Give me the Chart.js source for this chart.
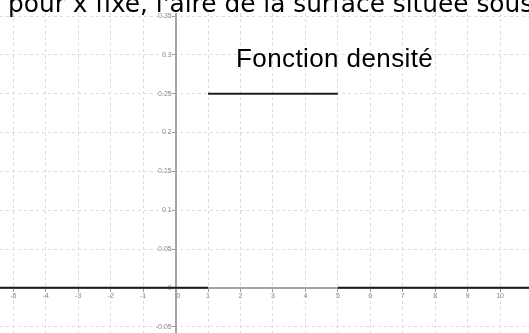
<!DOCTYPE html>
<html>
<head>
<meta charset="utf-8">
<title>Fonction densité</title>
<script src="https://cdn.jsdelivr.net/npm/chart.js@4.4.0/dist/chart.umd.min.js"></script>
<style>
  html, body { margin: 0; padding: 0; background: #fff; }
  #wrap { position: relative; width: 529px; height: 333px; overflow: hidden; }
  #chartBox { position: absolute; left: 0; top: 13px; width: 529px; height: 320px; }
  #intro {
    position: absolute; left: 8px; top: -8px;
    font-family: "DejaVu Sans", sans-serif; font-size: 24.8px; line-height: 24.8px;
    white-space: nowrap; color: #000;
  }
  #title {
    position: absolute; left: 236px; top: 44.5px;
    font-family: "Liberation Sans", sans-serif; font-size: 26px; line-height: 26px;
    letter-spacing: 0.4px; white-space: nowrap; color: #000;
  }
</style>
</head>
<body>
<div id="wrap">
  <div id="chartBox"><canvas id="densityChart"></canvas></div>
  <div id="intro">pour x fixe, l'aire de la surface située sous</div>
  <div id="title">Fonction densité</div>
</div>
<script>
// Visible window of the graph
const xMin = -5.41;
const xMax = 10.89;
const yMin = -0.0581;
const yMax = 0.3539;

// Tick values
const xTickValues = [-5, -4, -3, -2, -1, 0, 1, 2, 3, 4, 5, 6, 7, 8, 9, 10];
const yTickValues = [-0.05, 0, 0.05, 0.1, 0.15, 0.2, 0.25, 0.3, 0.35];

// Density: piecewise constant, one segment per piece
const segStart = [xMin, 1, 5];
const segEnd = [1, 5, xMax];
const segDensity = [0, 0.25, 0];

const datasets = segDensity.map((d, i) => ({
    data: [{ x: segStart[i], y: d }, { x: segEnd[i], y: d }],
    borderColor: '#1c1c1c',
    borderWidth: 2,
    pointRadius: 0,
    tension: 0
}));

// No padding around the scales, the axes sit inside the plot
function noPadding(scale) {
    scale.paddingTop = 0;
    scale.paddingBottom = 0;
    scale.paddingLeft = 0;
    scale.paddingRight = 0;
}

const tickFont = { family: 'Liberation Sans', size: 7 };

new Chart(document.getElementById('densityChart').getContext('2d'), {
    type: 'line',
    data: { datasets: datasets },
    options: {
        responsive: true,
        maintainAspectRatio: false,
        animation: false,
        layout: { padding: 0 },
        plugins: {
            legend: { display: false },
            tooltip: { enabled: false }
        },
        scales: {
            x: {
                type: 'linear',
                position: { y: 0 },
                min: xMin,
                max: xMax,
                afterBuildTicks: scale => { scale.ticks = xTickValues.map(v => ({ value: v })); },
                afterFit: noPadding,
                grid: { color: '#dcdcdc', lineWidth: 1, drawTicks: true, tickLength: 3, tickColor: '#9a9a9a' },
                border: { display: true, color: '#a4a4a4', width: 2, dash: [3, 3] },
                ticks: {
                    font: tickFont,
                    color: '#8a8a8a',
                    padding: 1,
                    maxRotation: 0,
                    autoSkip: false,
                    callback: v => v === 0 ? '   0' : String(v)
                }
            },
            y: {
                type: 'linear',
                position: { x: 0 },
                min: yMin,
                max: yMax,
                afterBuildTicks: scale => { scale.ticks = yTickValues.map(v => ({ value: v })); },
                afterFit: noPadding,
                grid: { color: '#dcdcdc', lineWidth: 1, drawTicks: true, tickLength: 3, tickColor: '#9a9a9a' },
                border: { display: true, color: '#a4a4a4', width: 2, dash: [3, 3] },
                ticks: {
                    font: tickFont,
                    color: '#8a8a8a',
                    padding: 1,
                    autoSkip: false,
                    // trailing spaces keep the label clear of the axis
                    callback: v => String(Math.round(v * 100) / 100) + '  '
                }
            }
        }
    }
});
</script>
</body>
</html>
